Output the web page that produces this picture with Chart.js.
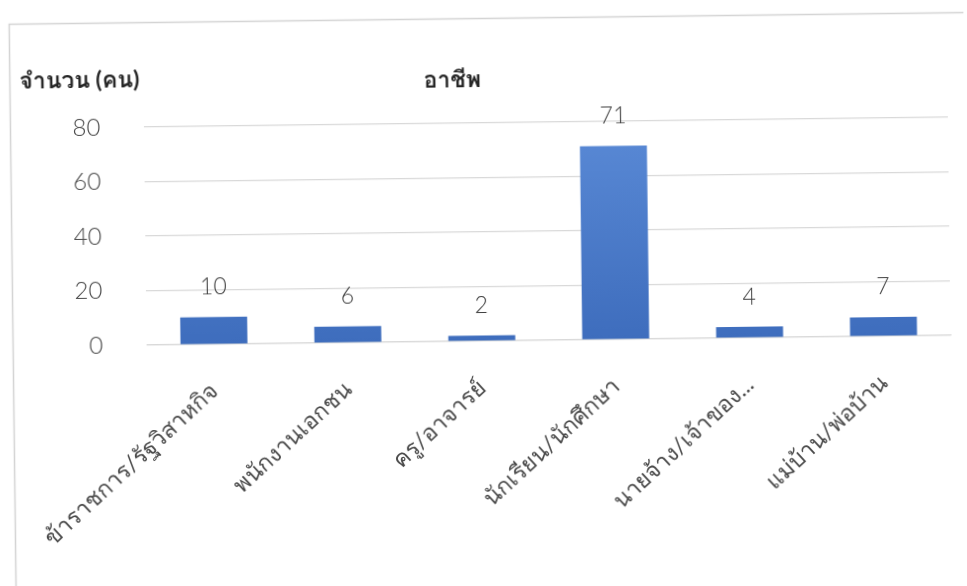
<!DOCTYPE html>
<html>
<head>
<meta charset="utf-8">
<script src="https://cdn.jsdelivr.net/npm/chart.js@4/dist/chart.umd.min.js"></script>
<style>
  html, body { margin: 0; padding: 0; background: #ffffff; }
  #wrap { width: 967px; height: 586px; transform: rotate(-0.7deg); transform-origin: 50% 50%; }
  canvas { display: block; }
</style>
</head>
<body>
<div id="wrap"><canvas id="c" width="967" height="586"></canvas></div>
<script>
// Occupation of respondents (number of people)
const categories = ['ข้าราชการ/รัฐวิสาหกิจ', 'พนักงานเอกชน', 'ครู/อาจารย์', 'นักเรียน/นักศึกษา', 'นายจ้าง/เจ้าของ...', 'แม่บ้าน/พ่อบ้าน'];
const counts = [10, 6, 2, 71, 4, 7];
const yTicks = [0, 20, 40, 60, 80];
const chartTitle = 'อาชีพ';
const yTitle = 'จำนวน (คน)';

const FONT = "Lato, Loma, Garuda, 'Noto Sans Thai Looped', Tahoma, 'Noto Sans Thai', sans-serif";

// Frame, axis caption and value labels drawn on the canvas
const decorations = {
  id: 'decorations',
  beforeDraw(chart) {
    const ctx = chart.ctx;
    ctx.save();
    ctx.fillStyle = '#ffffff';
    ctx.fillRect(0, 0, chart.width, chart.height);
    ctx.strokeStyle = '#d4d4d4';
    ctx.lineWidth = 1.5;
    ctx.beginPath();
    ctx.moveTo(12.5, chart.height);
    ctx.lineTo(12.5, 18.5);
    ctx.lineTo(chart.width, 18.5);
    ctx.stroke();
    ctx.restore();
  },
  afterDatasetsDraw(chart) {
    const ctx = chart.ctx;
    ctx.save();
    ctx.fillStyle = '#262626';
    ctx.font = `bold 23px ${FONT}`;
    ctx.textBaseline = 'middle';
    ctx.textAlign = 'left';
    ctx.fillText(yTitle, 22, 76);
    ctx.textAlign = 'center';
    ctx.fillText(chartTitle, 455, 80);

    ctx.fillStyle = '#404040';
    ctx.font = `300 23px ${FONT}`;
    const meta = chart.getDatasetMeta(0);
    meta.data.forEach((bar, i) => {
      ctx.fillText(String(counts[i]), bar.x, bar.y - 30);
    });
    ctx.restore();
  }
};

new Chart(document.getElementById('c'), {
  type: 'bar',
  data: {
    labels: categories,
    datasets: [{
      data: counts,
      backgroundColor(context) {
        const area = context.chart.chartArea;
        if (!area) return '#4a7cc8';
        const g = context.chart.ctx.createLinearGradient(0, area.top, 0, area.bottom);
        g.addColorStop(0, '#5a8ad6');
        g.addColorStop(1, '#3e6dbd');
        return g;
      },
      borderWidth: 0,
      barPercentage: 1,
      categoryPercentage: 0.5
    }]
  },
  options: {
    responsive: false,
    animation: false,
    events: [],
    layout: { padding: { left: 0, top: 123, right: 17, bottom: 0 } },
    plugins: { legend: { display: false }, title: { display: false }, tooltip: { enabled: false } },
    scales: {
      y: {
        min: yTicks[0],
        max: yTicks[yTicks.length - 1],
        afterBuildTicks(scale) { scale.ticks = yTicks.map(v => ({ value: v })); },
        afterFit(scale) { scale.width = 144; },
        ticks: { color: '#4a4a4a', font: { family: FONT, size: 24, weight: 300 }, padding: 44 },
        grid: { color: '#d9d9d9', drawTicks: false, lineWidth: 1.2 },
        border: { display: false }
      },
      x: {
        afterFit(scale) { scale.height = 245; },
        ticks: {
          color: '#4a4a4a',
          font: { family: FONT, size: 23 },
          minRotation: 42, maxRotation: 42,
          autoSkip: false,
          padding: 33
        },
        grid: { display: false, drawTicks: false },
        border: { color: '#d9d9d9', width: 1.2 }
      }
    }
  },
  plugins: [decorations]
});
</script>
</body>
</html>
